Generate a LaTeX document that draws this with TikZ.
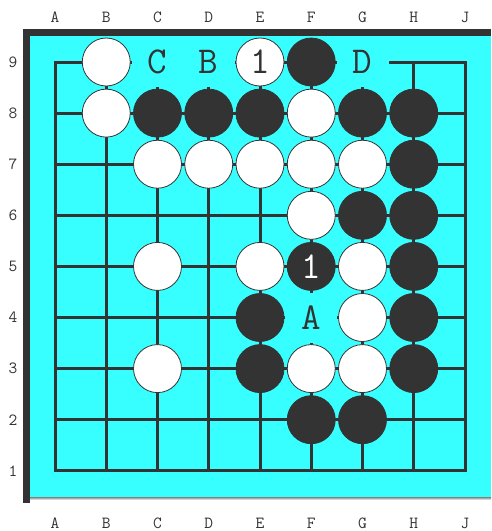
\documentclass[tikz,border=0pt]{standalone}
\usepackage{fontspec}
\definecolor{ink}{HTML}{333333}
\definecolor{boardc}{HTML}{38FFFF}
\definecolor{shade}{HTML}{DDDDDD}
\begin{document}
\begin{tikzpicture}[x=1pt,y=-1pt,
  gridline/.style={ink,line width=3pt},
  wstone/.style={circle,fill=white,draw=ink,line width=0.8pt,minimum size=48pt,inner sep=0pt,font=\ttfamily\fontsize{38}{38}\selectfont,text=ink},
  bstone/.style={circle,fill=ink,draw=ink,line width=0.8pt,minimum size=48pt,inner sep=0pt,font=\ttfamily\fontsize{38}{38}\selectfont,text=white},
  marklabel/.style={fill=boardc,minimum width=52pt,minimum height=50pt,inner sep=0pt,font=\ttfamily\fontsize{38}{38}\selectfont,text=ink},
  coordlabel/.style={font=\ttfamily\fontsize{17}{17}\selectfont,text=ink,inner sep=0pt}]
\useasboundingbox (0,0) rectangle (491,531);
\fill[white] (0,0) rectangle (491,531);
% frame
\fill[ink] (23,29) rectangle (30,503);
\fill[ink] (23,29) rectangle (491,36);
\fill[shade] (30,497) rectangle (491,500);
\fill[boardc] (30,36) rectangle (491,497);
\def\gx#1{55+51.25*#1}
\def\gy#1{62+51.1*(9-#1)}
% grid
\foreach \i in {0,...,8} {
  \draw[gridline,line cap=rect] ({\gx{\i}},{\gy{9}}) -- ({\gx{\i}},{\gy{1}});
}
\foreach \r in {1,...,9} {
  \draw[gridline,line cap=rect] ({\gx{0}},{\gy{\r}}) -- ({\gx{8}},{\gy{\r}});
}
% coordinate labels
\foreach \l [count=\i from 0] in {A,B,C,D,E,F,G,H,J} {
  \node[coordlabel] (top\l) at ({\gx{\i}},17) {\l};
  \node[coordlabel] (bot\l) at ({\gx{\i}},523) {\l};
}
\foreach \r in {1,...,9} {
  \node[coordlabel] (row\r) at (13,{\gy{\r}}) {\r};
}
% marks
\node[marklabel] (mC) at ({\gx{2}},{\gy{9}}) {C};
\node[marklabel] (mB) at ({\gx{3}},{\gy{9}}) {B};
\node[marklabel] (mD) at ({\gx{6}},{\gy{9}}) {D};
\node[marklabel] (mA) at ({\gx{5}},{\gy{4}}) {A};
% white stones
\foreach \c/\r in {1/9,1/8,5/8,2/7,3/7,4/7,5/7,6/7,5/6,2/5,4/5,6/5,6/4,2/3,5/3,6/3} {
  \node[wstone] (w\c-\r) at ({\gx{\c}},{\gy{\r}}) {};
}
\node[wstone] (w4-9) at ({\gx{4}},{\gy{9}}) {1};
% black stones
\foreach \c/\r in {5/9,2/8,3/8,4/8,6/8,7/8,7/7,6/6,7/6,7/5,4/4,7/4,4/3,7/3,5/2,6/2} {
  \node[bstone] (b\c-\r) at ({\gx{\c}},{\gy{\r}}) {};
}
\node[bstone] (b5-5) at ({\gx{5}},{\gy{5}}) {1};
\end{tikzpicture}
\end{document}
